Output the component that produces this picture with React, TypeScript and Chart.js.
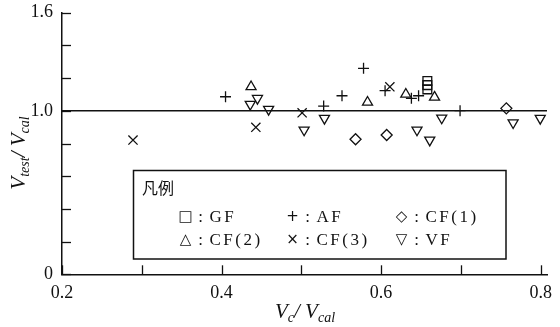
import React, { useEffect, useRef } from 'react';
import { Chart, registerables } from 'chart.js';

Chart.register(...registerables);

// ---- data ----
const xTicks = [0.2, 0.3, 0.4, 0.5, 0.6, 0.7, 0.8];
const xLabelled = [0.2, 0.4, 0.6, 0.8];
const yTicks = [0, 0.2, 0.4, 0.6, 0.8, 1.0, 1.2, 1.4, 1.6];
const yLabelled = [0, 1.0, 1.6];
const X_MIN = 0.2;
const X_MAX = 0.808;
const Y_MIN = 0;
const Y_MAX = 1.6;

const refLineX = [0.2, 0.808];
const refLineY = [1.0, 1.0];

const gfX = [0.658, 0.658, 0.658];
const gfY = [1.182, 1.157, 1.131];

const afX = [0.405, 0.528, 0.551, 0.578, 0.605, 0.638, 0.647, 0.699];
const afY = [1.086, 1.029, 1.092, 1.26, 1.123, 1.076, 1.092, 1.001];

const cf1X = [0.568, 0.607, 0.757];
const cf1Y = [0.826, 0.852, 1.015];

const cf2X = [0.437, 0.583, 0.631, 0.667];
const cf2Y = [1.147, 1.052, 1.101, 1.083];

const cf3X = [0.289, 0.443, 0.501, 0.611];
const cf3Y = [0.821, 0.899, 0.988, 1.147];

const vfX = [0.436, 0.445, 0.459, 0.5035, 0.529, 0.645, 0.661, 0.676, 0.7655, 0.7995];
const vfY = [1.04, 1.076, 1.009, 0.883, 0.954, 0.883, 0.821, 0.956, 0.927, 0.954];

const legendTitle = '凡例';
const legendItems = [
  { glyph: '□', label: 'GF' },
  { glyph: '+', label: 'AF' },
  { glyph: '◇', label: 'CF(1)' },
  { glyph: '△', label: 'CF(2)' },
  { glyph: '×', label: 'CF(3)' },
  { glyph: '▽', label: 'VF' },
];

const zip = (xs: number[], ys: number[]) => xs.map((x, i) => ({ x, y: ys[i] }));

const SERIF = '"Liberation Serif", "DejaVu Serif", serif';
const CJK = '"Noto Sans CJK JP", "Noto Sans", sans-serif';

function drawSubText(
  ctx: CanvasRenderingContext2D,
  parts: { t: string; sub?: boolean }[],
  cx: number,
  baseY: number,
  mainSize: number,
  subSize: number
) {
  const fontFor = (sub?: boolean) => `italic ${sub ? subSize : mainSize}px ${SERIF}`;
  let total = 0;
  const widths = parts.map((p) => {
    ctx.font = fontFor(p.sub);
    const w = ctx.measureText(p.t).width;
    total += w;
    return w;
  });
  let x = cx - total / 2;
  ctx.textAlign = 'left';
  ctx.textBaseline = 'alphabetic';
  parts.forEach((p, i) => {
    ctx.font = fontFor(p.sub);
    ctx.fillText(p.t, x, baseY + (p.sub ? 4 : 0));
    x += widths[i];
  });
}

const decorPlugin = {
  id: 'decor',
  beforeDatasetsDraw(chart: any) {
    const ctx = chart.ctx as CanvasRenderingContext2D;
    const xs = chart.scales.x;
    const ys = chart.scales.y;
    const area = chart.chartArea;
    ctx.save();
    ctx.strokeStyle = '#111';
    ctx.lineWidth = 1.3;
    yTicks.forEach((v) => {
      const py = Math.round(ys.getPixelForValue(v)) + 0.5;
      ctx.beginPath();
      ctx.moveTo(area.left, py);
      ctx.lineTo(area.left + 9, py);
      ctx.stroke();
    });
    xTicks.forEach((v) => {
      const px = Math.round(xs.getPixelForValue(v)) + 0.5;
      ctx.beginPath();
      ctx.moveTo(px, area.bottom);
      ctx.lineTo(px, area.bottom - 9);
      ctx.stroke();
    });
    ctx.restore();
  },
  afterDatasetsDraw(chart: any) {
    const ctx = chart.ctx as CanvasRenderingContext2D;
    ctx.save();
    ctx.fillStyle = '#111';
    // axis titles
    drawSubText(
      ctx,
      [{ t: 'V' }, { t: 'c', sub: true }, { t: '/ V' }, { t: 'cal', sub: true }],
      305,
      318,
      21,
      14
    );
    ctx.save();
    ctx.translate(25, 153);
    ctx.rotate(-Math.PI / 2);
    drawSubText(
      ctx,
      [{ t: 'V' }, { t: 'test', sub: true }, { t: '/ V' }, { t: 'cal', sub: true }],
      0,
      0,
      21,
      14
    );
    ctx.restore();

    // legend box
    const bx = 133.5, by = 170.5, bw = 372.5, bh = 88.5;
    ctx.fillStyle = '#fff';
    ctx.fillRect(bx, by, bw, bh);
    ctx.strokeStyle = '#111';
    ctx.lineWidth = 1.5;
    ctx.strokeRect(bx, by, bw, bh);

    ctx.fillStyle = '#111';
    ctx.textBaseline = 'middle';
    ctx.textAlign = 'left';
    ctx.font = `16px ${CJK}`;
    ctx.fillText(legendTitle, 142, 188);

    const colX = [185.5, 292.5, 401.5];
    const rowY = [217.5, 240.5];
    legendItems.forEach((it, i) => {
      const cx = colX[i % 3];
      const cy = rowY[Math.floor(i / 3)];
      ctx.textAlign = 'center';
      ctx.font = `15px "DejaVu Sans", ${CJK}`;
      ctx.fillText(it.glyph, cx, cy);
      ctx.font = `17px ${SERIF}`;
      ctx.fillText(':', cx + 15, cy);
      ctx.textAlign = 'left';
      (ctx as any).letterSpacing = '2.5px';
      ctx.fillText(it.label, cx + 24, cy);
      (ctx as any).letterSpacing = '0px';
    });
    ctx.restore();
  },
};

const markerBase = {
  showLine: false,
  borderColor: '#111',
  backgroundColor: 'rgba(255,255,255,0)',
  pointBorderWidth: 1.3,
  pointBackgroundColor: 'rgba(255,255,255,0)',
  pointBorderColor: '#111',
};

export default function App() {
  const ref = useRef<HTMLCanvasElement | null>(null);
  useEffect(() => {
    if (!ref.current) return;
    const chart = new Chart(ref.current, {
      type: 'scatter',
      data: {
        datasets: [
          {
            type: 'line',
            label: 'ref',
            data: zip(refLineX, refLineY),
            borderColor: '#111',
            borderWidth: 1.5,
            pointRadius: 0,
            showLine: true,
          } as any,
          { ...markerBase, label: 'GF', data: zip(gfX, gfY), pointStyle: 'rect', pointRadius: 6.2 },
          { ...markerBase, label: 'AF', data: zip(afX, afY), pointStyle: 'cross', pointRadius: 5.5 },
          { ...markerBase, label: 'CF(1)', data: zip(cf1X, cf1Y), pointStyle: 'rectRot', pointRadius: 5.5 },
          { ...markerBase, label: 'CF(2)', data: zip(cf2X, cf2Y), pointStyle: 'triangle', pointRadius: 5.8 },
          { ...markerBase, label: 'CF(3)', data: zip(cf3X, cf3Y), pointStyle: 'crossRot', pointRadius: 6.5 },
          {
            ...markerBase,
            label: 'VF',
            data: zip(vfX, vfY),
            pointStyle: 'triangle',
            pointRotation: 180,
            pointRadius: 5.8,
          },
        ],
      },
      options: {
        responsive: false,
        animation: false,
        devicePixelRatio: 1,
        layout: { padding: { left: 0, top: 12.7, right: 9, bottom: 0 } },
        plugins: { legend: { display: false }, tooltip: { enabled: false }, title: { display: false } },
        scales: {
          x: {
            type: 'linear',
            min: X_MIN,
            max: X_MAX,
            afterBuildTicks: (scale: any) => {
              scale.ticks = xTicks.map((v) => ({ value: v }));
            },
            afterFit: (scale: any) => {
              scale.height = 52.7;
            },
            grid: { display: true, drawOnChartArea: false, drawTicks: false },
            border: { display: true, color: '#111', width: 1.5 },
            ticks: {
              padding: 8,
              color: '#111',
              maxRotation: 0,
              autoSkip: false,
              font: { family: SERIF, size: 18 },
              callback: (v: any) => (xLabelled.some((l) => Math.abs(l - v) < 1e-6) ? Number(v).toFixed(1) : ''),
            },
          },
          y: {
            type: 'linear',
            min: Y_MIN,
            max: Y_MAX,
            afterBuildTicks: (scale: any) => {
              scale.ticks = yTicks.map((v) => ({ value: v }));
            },
            afterFit: (scale: any) => {
              scale.width = 62;
            },
            grid: { display: true, drawOnChartArea: false, drawTicks: false },
            border: { display: true, color: '#111', width: 1.5 },
            ticks: {
              padding: 9,
              color: '#111',
              autoSkip: false,
              font: { family: SERIF, size: 18, lineHeight: 0.3 },
              callback: (v: any) => {
                if (!yLabelled.some((l) => Math.abs(l - v) < 1e-6)) return '';
                return Math.abs(v) < 1e-9 ? '0' : Number(v).toFixed(1);
              },
            },
          },
        },
      },
      plugins: [decorPlugin],
    } as any);
    return () => chart.destroy();
  }, []);
  return (
    <div style={{ position: 'fixed', left: 0, top: 0, width: 560, height: 327, background: '#fff' }}>
      <canvas ref={ref} width={560} height={327} style={{ display: 'block' }} />
    </div>
  );
}
